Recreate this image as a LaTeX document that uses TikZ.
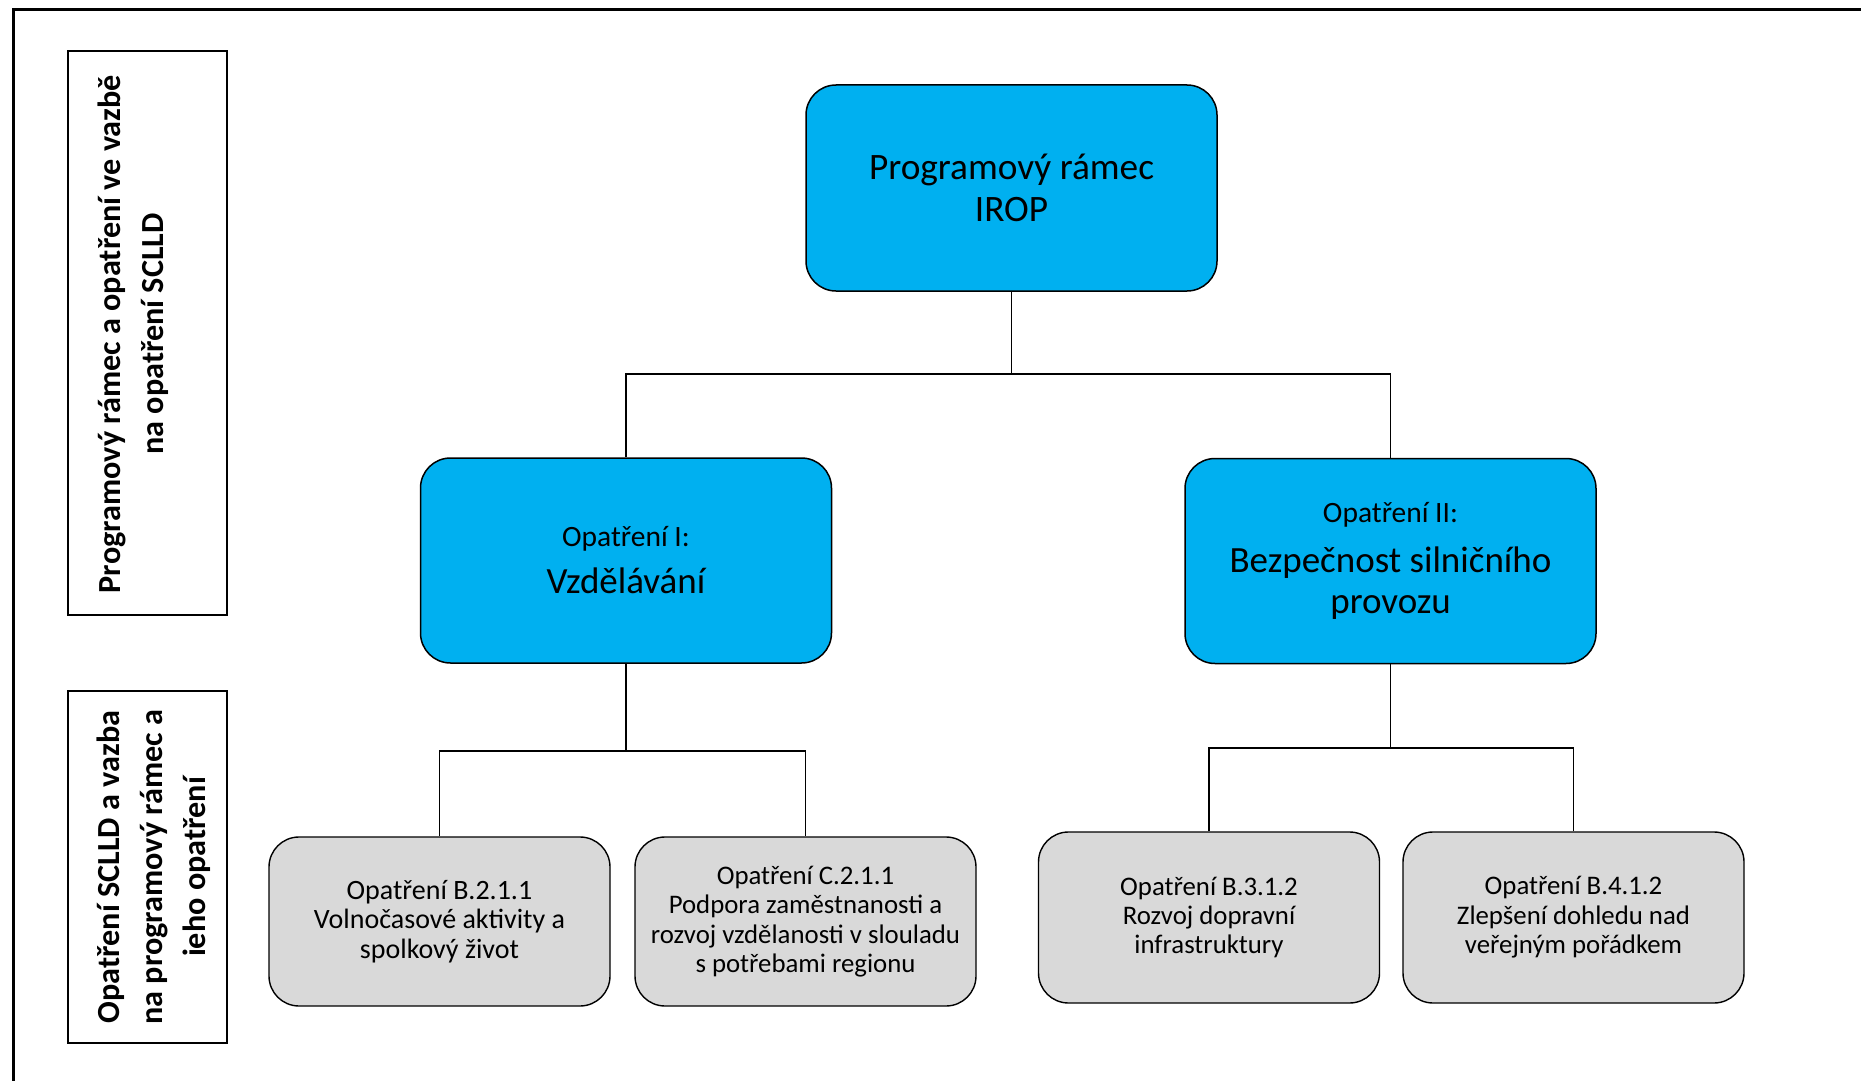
\documentclass[tikz,border=0pt]{standalone}
\usepackage{fontspec}
\setmainfont{Carlito}
\definecolor{boxblue}{HTML}{00B0F0}
\definecolor{boxgray}{HTML}{D9D9D9}
\begin{document}
\begin{tikzpicture}[x=1pt,y=-1pt,
  bluebox/.style={draw=black, line width=1.5pt, fill=boxblue, rounded corners=30pt,
    minimum width=411pt, minimum height=205pt, inner sep=0pt, align=flush center, text width=390pt},
  graybox/.style={draw=black, line width=1.4pt, fill=boxgray, rounded corners=30pt,
    minimum width=341pt, minimum height=170pt, inner sep=0pt, align=flush center, text width=335pt,
    font=\fontsize{26.8}{29.4}\selectfont},
  sidebox/.style={draw=black, line width=2pt, minimum width=159pt, inner sep=0pt},
  sidelabel/.style={rotate=90, align=flush center, inner sep=0pt, font=\bfseries\fontsize{32.2}{43}\selectfont},
  conn/.style={draw=black, line width=1.5pt}]
\useasboundingbox (0,0) rectangle (1861,1081);
\fill[white] (0,0) rectangle (1861,1081);
% outer frame
\draw[line width=3pt] (13,1090) -- (13,10) -- (1870,10);

% side labels
\node[sidebox, minimum height=564pt] (s1) at (147.5,333) {};
\node[sidelabel, text width=545pt] (s1t) at (133.5,334) {Programový rámec a opatření ve vazbě\\na opatření SCLLD};
\node[sidebox, minimum height=352pt] (s2) at (147.5,867) {};
\node[sidelabel, text width=345pt] (s2t) at (154,867) {Opatření SCLLD a vazba\\na programový rámec a\\ieho opatření};

% blue nodes
\node[bluebox, minimum width=411pt, minimum height=206pt, font=\fontsize{37.3}{41.5}\selectfont] (top) at (1011.5,188) {Programový rámec\\IROP};
\node[bluebox] (m1) at (626,560.5) {\fontsize{29.5}{34}\selectfont Opatření I:\par\vspace{7pt}\fontsize{37}{40}\selectfont Vzdělávání\par};
\node[bluebox] (m2) at (1390.5,561) {\fontsize{29.5}{34}\selectfont Opatření II:\par\vspace{9pt}\fontsize{37}{41}\selectfont Bezpečnost silničního\\provozu\par};

% gray nodes
\node[graybox, minimum height=169pt, font=\fontsize{28}{29.6}\selectfont] (b1) at (439.5,921.5) {Opatření B.2.1.1\\Volnočasové aktivity a\\spolkový život};
\node[graybox, minimum height=169pt] (b2) at (805.5,921.5) {Opatření C.2.1.1\\Podpora zaměstnanosti a\\rozvoj vzdělanosti v slouladu\\s potřebami regionu};
\node[graybox, minimum height=171pt] (b3) at (1209,917.5) {Opatření B.3.1.2\\Rozvoj dopravní\\infrastruktury};
\node[graybox, minimum height=171pt] (b4) at (1573.5,917.5) {Opatření B.4.1.2\\Zlepšení dohledu nad\\veřejným pořádkem};

% connectors
\coordinate (j1) at (1011.5,374);
\coordinate (j2) at (626,751);
\coordinate (j3) at (1390.5,748);
\draw[conn] (top.south) -- (j1);
\draw[conn] (m1.north) |- (j1) -| (m2.north);
\draw[conn] (m1.south) -- (j2);
\draw[conn] (b1.north) |- (j2) -| (b2.north);
\draw[conn] (m2.south) -- (j3);
\draw[conn] (b3.north) |- (j3) -| (b4.north);
\end{tikzpicture}
\end{document}
